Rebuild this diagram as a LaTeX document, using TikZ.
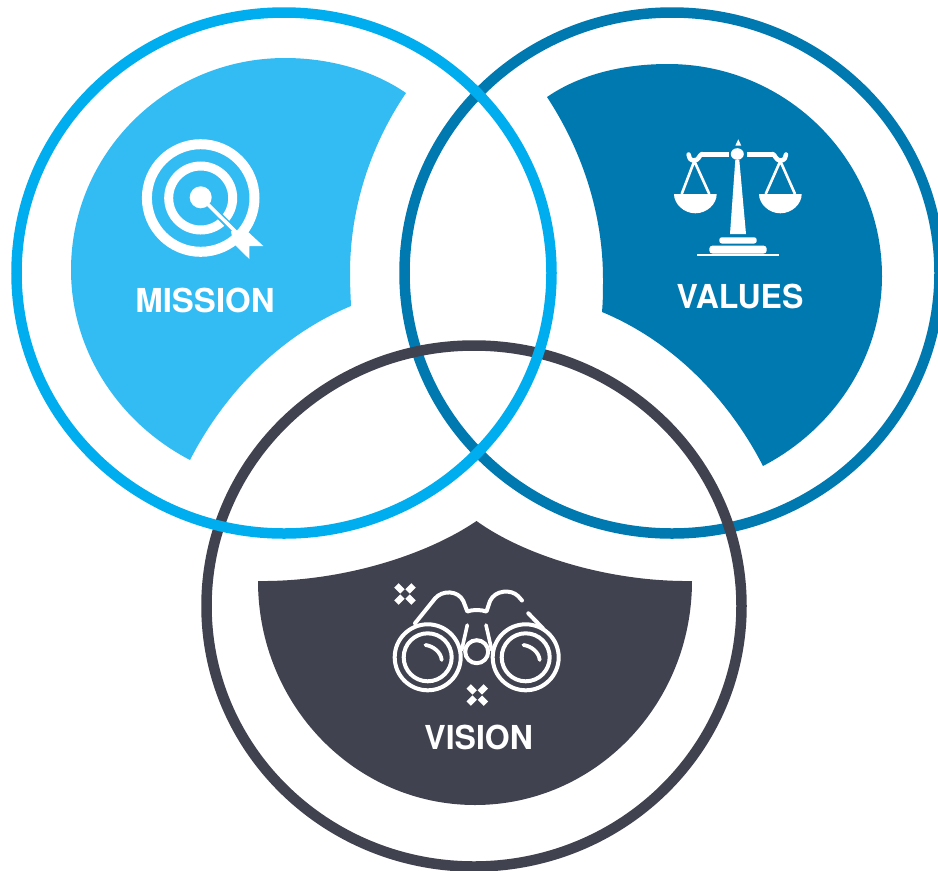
\documentclass[tikz,border=0pt]{standalone}
\usepackage{graphicx}
\usepackage{fontspec}
\setmainfont{TeX Gyre Heros}
\definecolor{missionring}{HTML}{00AEEF}
\definecolor{missionfill}{HTML}{33BBF3}
\definecolor{valuescol}{HTML}{0079B1}
\definecolor{visioncol}{HTML}{40424F}
\tikzset{
  ringline/.style={line width=10.5pt},
  blabel/.style={text=white,font=\bfseries\fontsize{33}{36}\selectfont,anchor=base,inner sep=0pt},
  wline/.style={draw=white,line cap=round,line join=round},
  sparkle/.pic={\foreach \a/\b in {1/1,1/-1,-1/1,-1/-1}{\draw[white,line width=6.2pt] (2.6*\a,2.6*\b) -- (8.6*\a,8.6*\b);}}
}
\begin{document}
\begin{tikzpicture}[x=1pt,y=-1pt]
\useasboundingbox (0,0) rectangle (938,871);
% blobs
\fill[missionfill] (406,93) .. controls (371,69) and (327,58) .. (285,58)
  .. controls (167,58) and (71,153) .. (71,270)
  .. controls (71,351) and (119,423) .. (190,460)
  .. controls (225,392) and (281,335) .. (351,306)
  .. controls (350.5,295) and (350,284) .. (350,273)
  .. controls (350,209) and (370,146) .. (406,93) -- cycle;
\fill[valuescol] (547,97) .. controls (582,73) and (626,64) .. (668,64)
  .. controls (786,64) and (882,159) .. (882,276)
  .. controls (882,357) and (834,429) .. (763,466)
  .. controls (728,398) and (672,341) .. (602,312)
  .. controls (603,301) and (603,290) .. (603,279)
  .. controls (603,215) and (583,152) .. (547,97) -- cycle;
\fill[visioncol] (258,581) .. controls (340,582) and (425,556) .. (476.5,521)
  .. controls (525,556) and (610,582) .. (692,581)
  .. controls (692,705) and (595,805) .. (475,805)
  .. controls (355,805) and (258,705) .. (258,581) -- cycle;
% rings
\draw[ringline,draw=valuescol] (672,273) ellipse [x radius=267.5,y radius=260.5];
\draw[ringline,draw=visioncol] (474,606) ellipse [x radius=267.5,y radius=260.5];
\draw[ringline,draw=missionring] (284,273) ellipse [x radius=267.5,y radius=260.5];
% target icon
\draw[white,line width=10pt] (200.7,198) circle (53.8);
\draw[white,line width=9pt] (200.7,198) circle (32);
\draw[missionfill,line width=7pt] (218,214.5) -- (233,229.5);
\fill[white] (200.7,197.3) circle (11);
\draw[white,line width=3.5pt] (200.7,197.3) -- (238,234);
\fill[white] (231,231) -- (246,230) -- (263.3,246) -- (249.3,246) -- (249.3,259) -- (233,243) -- cycle;
% scales icon
\fill[white] (738.3,139.3) -- (735.3,145.7) -- (741.3,145.7) -- cycle;
\fill[white] (737.3,154) ellipse [x radius=6.5,y radius=5.8];
\fill[white] (735.3,160) -- (739.3,160) -- (746,234) -- (730,234) -- cycle;
\draw[white,line width=5pt,line cap=butt] (728.7,154) -- (702,154);
\draw[white,line width=5pt,line cap=butt] (747.3,154) -- (772.6,154);
\draw[wline,line width=4.5pt] (702,154) .. controls (699,155) and (699,160.5) .. (694,160.5) .. controls (690,160.5) and (688.6,157) .. (688.6,154.5);
\draw[wline,line width=4.5pt] (772.6,154) .. controls (775.6,155) and (775.6,160.5) .. (780.6,160.5) .. controls (784.6,160.5) and (786,157) .. (786,154.5);
\draw[white,line width=2.6pt,line join=miter] (681.7,194) -- (694.3,161) -- (709.3,194);
\draw[white,line width=2.6pt,line join=miter] (765.7,194) -- (780.3,161) -- (795,194);
\fill[white] (674,194) -- (716.7,194) .. controls (716.7,204) and (707,213.3) .. (695.3,213.3) .. controls (684,213.3) and (674,204) .. (674,194) -- cycle;
\fill[white] (759,194) -- (801.7,194) .. controls (801.7,204) and (792,213.3) .. (780.3,213.3) .. controls (769,213.3) and (759,204) .. (759,194) -- cycle;
\fill[white,rounded corners=2.5pt] (719.3,243.5) -- (719.3,237.3) -- (756.7,237.3) -- (756.7,243.5) -- cycle;
\fill[white,rounded corners=3pt] (709.3,253.5) -- (709.3,245.7) -- (766.7,245.7) -- (766.7,253.5) -- cycle;
\fill[white] (696.7,253.5) rectangle (779.3,255.5);
% binoculars icon
\foreach \cx in {427.7,525.7}{
  \draw[white,line width=4pt] (\cx,657.3) circle (33);
  \draw[white,line width=4pt] (\cx,657.3) circle (24);
}
\draw[wline,line width=3.8pt] (425.5,645) .. controls (433,646) and (441,652) .. (441.7,660);
\draw[wline,line width=3.8pt] (523.5,645) .. controls (531,646) and (539,652) .. (539.7,660);
\draw[white,line width=4pt] (476.7,651.7) circle (11.5);
\draw[wline,line width=4pt] (415,623.3) -- (435,598.5) .. controls (442,590) and (458,590) .. (463.3,601) -- (467.3,611.5)
  .. controls (472,609.5) and (481,609.5) .. (486.5,611.5)
  -- (490,601) .. controls (495,590) and (511,589) .. (518,596) -- (522,600.5);
\draw[wline,line width=4pt] (528.3,613.3) -- (543,628.5);
\draw[wline,line width=3.6pt] (467.3,625) -- (461.7,650);
\draw[wline,line width=3.6pt] (486,625) -- (491.7,650);
\pic at (405,594) {sparkle};
\pic at (477.3,695) {sparkle};
% labels
\node[blabel] (missionlabel) at (205,312) {MISSION};
\node[blabel] (valueslabel) at (740,308.5) {\scalebox{.97}[1]{VALUES}};
\node[blabel] (visionlabel) at (478.7,749) {\scalebox{.97}[1]{VISION}};
\end{tikzpicture}
\end{document}
